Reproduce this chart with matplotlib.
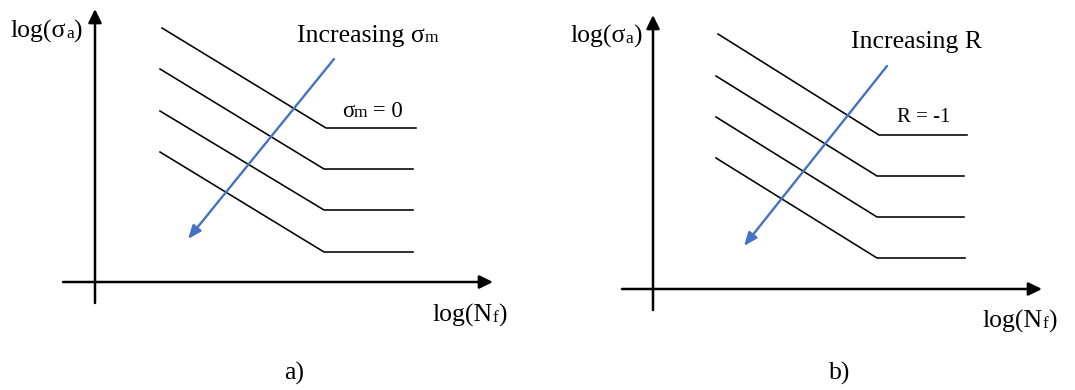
import matplotlib
matplotlib.use("Agg")
import matplotlib.pyplot as plt
from matplotlib.transforms import offset_copy

plt.rcParams['font.family'] = ['Liberation Serif', 'DejaVu Serif']

# schematic S-N curves, log(N_f) vs log(sigma_a), arbitrary units
# panel a) : mean stress family
a_n_start = [6.7, 6.5, 6.5, 6.5]
a_n_knee = [23.1, 22.9, 22.9, 22.9]
a_n_end = [32.1, 31.8, 31.8, 31.8]
a_s_start = [25.4, 21.3, 17.1, 13.0]
a_s_knee = [15.4, 11.3, 7.2, 3.0]
a_trend = [(23.9, 22.3), (9.3, 4.3)]

# panel b) : load ratio family
b_n_start = [6.5, 6.3, 6.3, 6.3]
b_n_knee = [22.6, 22.4, 22.4, 22.4]
b_n_end = [31.4, 31.1, 31.1, 31.2]
b_s_start = [25.5, 21.3, 17.2, 13.1]
b_s_knee = [15.4, 11.3, 7.2, 3.1]
b_trend = [(23.4, 22.3), (9.1, 4.3)]

BLUE = '#4472C4'
BIG = 18.5
SMALL = 12.5
MID = 14.5

fig = plt.figure(figsize=(10.75, 3.9), dpi=100)
renderer = fig.canvas.get_renderer()


def put_text(ax, x, y, parts):
    # draws consecutive pieces on one baseline, small pieces act as subscripts
    trans = ax.transData
    for s, size in parts:
        t = ax.text(x, y, s, fontsize=size, transform=trans,
                    ha='left', va='baseline', color='black')
        w = t.get_window_extent(renderer).width
        trans = offset_copy(trans, x=w - 0.5, units='dots')


def draw_panel(ax, n0, n1, n2, s0, s1, trend, axes_ext):
    x_lo, x_hi, y_lo, y_hi = axes_ext
    arrow_k = dict(arrowstyle='-|>,head_length=0.45,head_width=0.22',
                   color='black', lw=1.8, mutation_scale=18,
                   shrinkA=0, shrinkB=0)
    ax.annotate('', xy=(x_hi, 0), xytext=(x_lo, 0), arrowprops=arrow_k)
    ax.annotate('', xy=(0, y_hi), xytext=(0, y_lo), arrowprops=arrow_k)
    for i in range(len(n0)):
        ax.plot([n0[i], n1[i], n2[i]], [s0[i], s1[i], s1[i]],
                color='black', lw=1.15, solid_joinstyle='miter')
    ax.annotate('', xy=trend[1], xytext=trend[0],
                arrowprops=dict(arrowstyle='-|>,head_length=0.5,head_width=0.2',
                                color=BLUE, lw=1.7, mutation_scale=16,
                                shrinkA=0, shrinkB=0))


# panel a)
ax_a = fig.add_axes([0, 0, 537 / 1075, 1])
ax_a.set_xlim(-9.5, 44.2)
ax_a.set_ylim(-10.8, 28.2)
ax_a.axis('off')
draw_panel(ax_a, a_n_start, a_n_knee, a_n_end, a_s_start, a_s_knee,
           a_trend, (-3.2, 39.8, -2.1, 27.3))
put_text(ax_a, -8.4, 24.4, [('log(σ', BIG), ('a', SMALL), (')', BIG)])
put_text(ax_a, 20.2, 24.0, [('Increasing σ', BIG), ('m', SMALL)])
put_text(ax_a, 24.7, 16.5, [('σ', MID + 2), ('m', SMALL), (' = 0', MID + 2)])
put_text(ax_a, 33.8, -4.0, [('log(N', BIG), ('f', SMALL), (')', BIG)])
ax_a.text(19.9, -9.8, 'a)', fontsize=BIG, ha='center', va='baseline')

# panel b)
ax_b = fig.add_axes([537 / 1075, 0, 538 / 1075, 1])
ax_b.set_xlim(-11.6, 42.2)
ax_b.set_ylim(-10.1, 28.9)
ax_b.axis('off')
draw_panel(ax_b, b_n_start, b_n_knee, b_n_end, b_s_start, b_s_knee,
           b_trend, (-3.1, 38.9, -2.1, 27.4))
put_text(ax_b, -8.2, 24.6, [('log(σ', BIG), ('a', SMALL), (')', BIG)])
put_text(ax_b, 19.8, 24.1, [('Increasing R', BIG)])
put_text(ax_b, 24.4, 16.7, [('R = -1', MID + 0.5)])
put_text(ax_b, 33.0, -3.9, [('log(N', BIG), ('f', SMALL), (')', BIG)])
ax_b.text(18.7, -9.1, 'b)', fontsize=BIG, ha='center', va='baseline')

fig.savefig('out.png', dpi=100)
